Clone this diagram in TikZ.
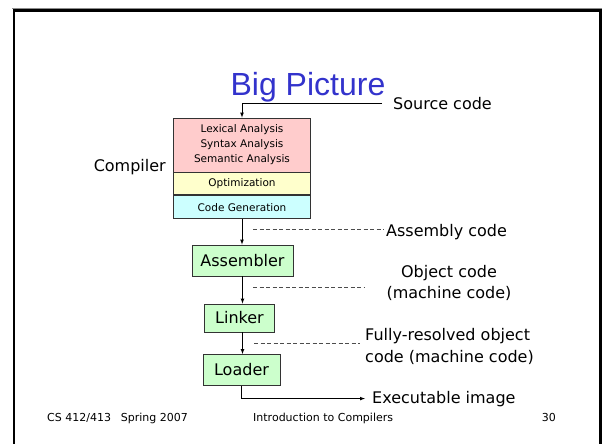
\documentclass[tikz,border=0pt]{standalone}
\usepackage{fontspec}
\setmainfont{DejaVu Sans}
\newfontfamily\titlefont{Liberation Sans}

\definecolor{titleblue}{RGB}{51,51,204}
\definecolor{lexpink}{RGB}{255,204,204}
\definecolor{optyellow}{RGB}{255,255,204}
\definecolor{gencyan}{RGB}{204,255,255}
\definecolor{toolgreen}{RGB}{204,255,204}

\begin{document}
\begin{tikzpicture}[x=1pt,y=-1pt]

\tikzstyle{every node}=[inner sep=0pt, font=\fontsize{16}{20}\selectfont]
\tikzstyle{stage}=[draw=black!80, line width=0.8pt, minimum width=137pt, align=center, font=\fontsize{10.5}{15}\selectfont]
\tikzstyle{tool}=[draw=black!80, line width=0.8pt, fill=toolgreen]
\tikzstyle{link}=[->, >=latex, line width=0.7pt]
\tikzstyle{hint}=[black!70, line width=0.7pt, dash pattern=on 4pt off 2.5pt]
\tikzstyle{footer}=[font=\fontsize{11}{13}\selectfont]

\useasboundingbox (0,0) rectangle (602,444);

% slide frame
\draw[black!45, line width=1.2pt] (12,8.2) -- (602,8.2);
\draw[line width=2.6pt] (13.8,450) -- (13.8,10.8) -- (600.3,10.8) -- (600.3,450);

\node[anchor=base, text=titleblue, font=\titlefont\fontsize{32}{36}\selectfont] (title) at (308,95) {Big Picture};

\pgfmathsetmacro\x{242}

% compiler stack
\node[stage, fill=lexpink, minimum height=54pt] (lexer) at (\x,145)
{Lexical Analysis\\Syntax Analysis\\Semantic Analysis};
\node[stage, fill=optyellow, minimum height=22pt, anchor=north] (optimizer) at (lexer.south) {Optimization};
\node[stage, fill=gencyan, minimum height=23pt, anchor=north] (codegen) at (optimizer.south) {Code Generation};

\node[anchor=base east] (compiler) at (166,171) {Compiler};

\node[anchor=base west] (source) at (393,109) {Source code};
\draw[link, shorten <=11pt] (source.west) -| (lexer.north);

% assembler
\node[tool, minimum width=101pt, minimum height=31pt] (assembler) at (242.5,260.5) {Assembler};
\draw[link] (codegen.south) -- (codegen.south |- assembler.north);

\node[anchor=base west] (asmcode) at (386,236) {Assembly code};
\coordinate (asmcode_tail) at (253,229);
\draw[hint, shorten >=2pt] (asmcode_tail) -- (asmcode_tail -| asmcode.west);

% linker
\node[tool, minimum width=70pt, minimum height=28pt] (linker) at (239.5,318) {Linker};
\draw[link] (assembler.south) -- (assembler.south |- linker.north);

\node[align=center, font=\fontsize{16}{21}\selectfont] (objcode) at (449,282.5) {Object code\\(machine code)};
\coordinate (objcode_tail) at (253,287);
\coordinate (objcode_head) at (365,287);
\draw[hint] (objcode_tail) -- (objcode_head);

% loader
\node[tool, minimum width=77pt, minimum height=31pt] (loader) at (241.5,370) {Loader};
\draw[link] (assembler.south |- linker.south) -- (assembler.south |- loader.north);

\node[align=left, anchor=north west, font=\fontsize{16}{22}\selectfont] (linkcode) at (365,328.5)
{Fully-resolved object\\code (machine code)};
\coordinate (linkcode_tail) at (254,343);
\coordinate (linkcode_head) at (360,343);
\draw[hint] (linkcode_tail) -- (linkcode_head);

\node[anchor=base west] (image) at (372,403) {Executable image};
\draw[link, shorten >=7pt] (loader.south) |- (image.west);

% footer
\node[footer, anchor=base west] (course) at (47,421) {CS 412/413\hspace{0.9em}Spring 2007};
\node[footer, anchor=base west] (subject) at (253,421) {Introduction to Compilers};
\node[footer, anchor=base east] (page) at (556,421) {30};

\end{tikzpicture}
\end{document}
